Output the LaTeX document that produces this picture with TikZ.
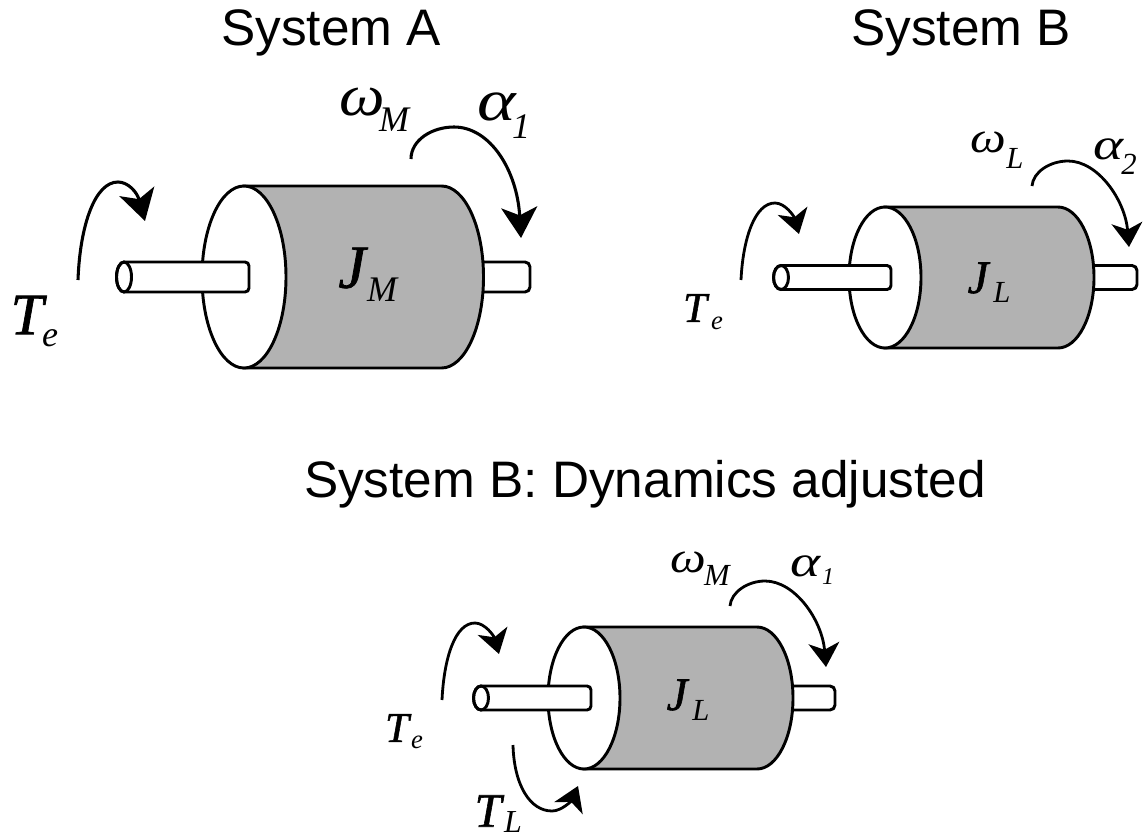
\documentclass[tikz,border=0pt]{standalone}
\usepackage{fontspec}
\setmainfont{Liberation Sans}
\newfontfamily\mathf{Liberation Serif}
\newfontfamily\mathb[FakeBold=1.2]{Liberation Serif}
\usetikzlibrary{arrows.meta}
\definecolor{bodygray}{HTML}{B2B2B2}
\newcommand\ttl{\fontsize{38.5}{40}\selectfont}
\newcommand\sy[1]{\fontsize{#1}{#1}\selectfont\mathf\itshape}
\newcommand\syb[1]{\fontsize{#1}{#1}\selectfont\mathb\itshape}
% cx cy rx ry len shaftleft halfheight shaftright stubright
\newcommand\cyl[9]{
  \draw[line,fill=white] (#1+#5,#2-#7) -- (#9-5,#2-#7) to[out=0,in=90] (#9,#2-#7+5) -- (#9,#2+#7-5) to[out=-90,in=0] (#9-5,#2+#7) -- (#1+#5,#2+#7);
  \draw[line,fill=bodygray] (#1,#2-#4) -- (#1+#5,#2-#4) arc[start angle=-90,end angle=90,x radius=#3,y radius=#4] -- (#1,#2+#4) -- cycle;
  \draw[line,fill=white] (#1,#2) ellipse[x radius=#3,y radius=#4];
  \draw[line,fill=white] (#6,#2-#7) -- (#8-4,#2-#7) to[out=0,in=90] (#8,#2-#7+4) -- (#8,#2+#7-4) to[out=-90,in=0] (#8-4,#2+#7) -- (#6,#2+#7) arc[start angle=90,end angle=270,x radius=7.5,y radius=#7] -- cycle;
  \draw[line] (#6,#2) ellipse[x radius=7.5,y radius=#7];
}
\tikzset{
  line/.style={line width=2.2pt,black},
  lab/.style={inner sep=0pt,outer sep=0pt,anchor=center},
  title/.style={inner sep=0pt,font=\ttl,anchor=base},
  bigarrow/.style={line width=2.3pt,-{Stealth[length=23pt,width=27pt,inset=6pt]}},
  smallarrow/.style={line width=2.1pt,-{Stealth[length=18pt,width=23pt,inset=5pt]}},
}
\begin{document}
\begin{tikzpicture}[x=0.75pt,y=-0.75pt]
\useasboundingbox (0,0) rectangle (1146,839);
\node[title] (tA) at (331,45) {System A};
\node[title] (tB) at (961,45) {System B};
\node[title] (tC) at (645,497) {System B: Dynamics adjusted};

% System A
\cyl{244}{277}{42}{91}{197.5}{124}{15}{249}{530}
\draw[bigarrow] (78,280) .. controls (80,225) and (95,182) .. (118,182) .. controls (128,182) and (137,192) .. (145,221);
\draw[bigarrow] (411,159) .. controls (411,140) and (432,127) .. (454,127) .. controls (490,127) and (517,170) .. (521,238);
\node[lab,font=\sy{44},xscale=1.1] (wA) at (362,102) {ω};
\node[lab,font=\sy{27}] (wAs) at (394,120) {M};
\node[lab,font=\sy{44},xscale=1.25] (aA) at (497,107) {α};
\node[lab,font=\sy{27}] (aAs) at (521,127) {1};
\node[lab,font=\syb{44}] (TA) at (27,315) {T};
\node[lab,font=\sy{27}] (TAs) at (50,338) {e};
\node[lab,font=\syb{46}] (JA) at (352,268) {J};
\node[lab,font=\sy{27}] (JAs) at (382,290) {M};

% System B
\cyl{885}{277.5}{36}{70.5}{173}{781}{12}{891}{1137}
\draw[smallarrow] (741,280) .. controls (743,238) and (755,203) .. (775,203) .. controls (785,203) and (794,216) .. (799,234);
\draw[smallarrow] (1032,186) .. controls (1033,172) and (1050,161) .. (1068,161) .. controls (1098,161) and (1125,200) .. (1129,247);
\node[lab,font=\sy{33},xscale=1.15] (wB) at (988,142) {ω};
\node[lab,font=\sy{23}] (wBs) at (1015,158) {L};
\node[lab,font=\sy{33},xscale=1.3] (aB) at (1108,149) {α};
\node[lab,font=\sy{23}] (aBs) at (1129,164) {2};
\node[lab,font=\syb{32}] (TB) at (695,308) {T};
\node[lab,font=\sy{20}] (TBs) at (717,323) {e};
\node[lab,font=\syb{35}] (JB) at (978,278) {J};
\node[lab,font=\sy{23}] (JBs) at (1002,292) {L};

% System B adjusted
\cyl{584}{698}{36}{71}{173}{481}{12}{591}{835}
\draw[smallarrow] (442,700) .. controls (444,658) and (455,623) .. (475,623) .. controls (485,623) and (494,636) .. (499,654);
\draw[smallarrow] (730,606) .. controls (731,592) and (748,581) .. (765,581) .. controls (795,581) and (822,620) .. (826,667);
\draw[smallarrow] (513,745) .. controls (514,785) and (530,811) .. (552,811) .. controls (562,811) and (572,800) .. (578,786);
\node[lab,font=\sy{33},xscale=1.15] (wC) at (688,562) {ω};
\node[lab,font=\sy{23}] (wCs) at (717,575) {M};
\node[lab,font=\sy{33},xscale=1.3] (aC) at (806,566) {α};
\node[lab,font=\sy{18}] (aCs) at (828,577) {1};
\node[lab,font=\syb{32}] (TC) at (397,728) {T};
\node[lab,font=\sy{20}] (TCs) at (417,742) {e};
\node[lab,font=\syb{35}] (JC) at (677,695) {J};
\node[lab,font=\sy{23}] (JCs) at (701,710) {L};
\node[lab,font=\syb{36}] (TL) at (488,811) {T};
\node[lab,font=\sy{24}] (TLs) at (513,822) {L};
\end{tikzpicture}
\end{document}
